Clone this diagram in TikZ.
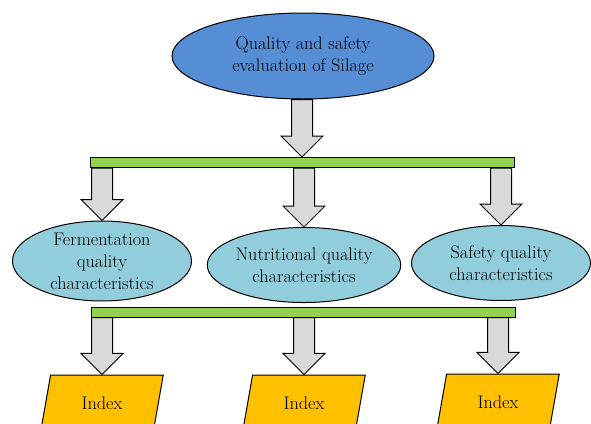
\documentclass[tikz,border=0pt]{standalone}
\usetikzlibrary{shapes.geometric,calc}

\definecolor{topblue}{RGB}{85,142,213}
\definecolor{charblue}{RGB}{146,205,220}
\definecolor{bargreen}{RGB}{146,208,80}
\definecolor{arrowgray}{RGB}{217,217,217}
\definecolor{indexgold}{RGB}{255,192,0}

% block arrow pointing down onto the second node, shaft starting at the first
\newcommand\blockarrow[2]{%
  \draw[blockarrow] let \p1=(#1), \p2=(#2) in
    (\x2-10.5pt,\y1) -- (\x2+10.5pt,\y1) -- (\x2+10.5pt,\y2+21pt)
    -- (\x2+21pt,\y2+21pt) -- (\x2,\y2) -- (\x2-21pt,\y2+21pt)
    -- (\x2-10.5pt,\y2+21pt) -- cycle;}

\begin{document}
\begin{tikzpicture}[x=1pt,y=-1pt,line width=1pt,
  font=\fontsize{18.2}{22}\selectfont,
  goal/.style={ellipse,draw,fill=topblue,align=center,inner sep=0pt,
    minimum width=262pt,minimum height=86pt},
  chara/.style={ellipse,draw,fill=charblue,align=center,inner sep=0pt,
    minimum width=179pt,minimum height=75pt},
  splitbar/.style={rectangle,draw,fill=bargreen,inner sep=0pt,
    minimum width=424pt,minimum height=10pt},
  indexbox/.style={trapezium,draw,fill=indexgold,inner sep=0pt,
    trapezium left angle=73,trapezium right angle=107,
    trapezium stretches=true,minimum width=123pt,minimum height=56pt},
  blockarrow/.style={draw,fill=arrowgray,line join=miter}]
  \clip (0,0) rectangle (591,423);

  \node[goal] (goal) at (303,56) {Quality and safety\\evaluation of Silage};
  \node[splitbar] (bar1) at (302,162.5) {};

  \node[chara] (ferm) at (102,261) {Fermentation\\quality\\characteristics};
  \node[chara] (nutr) at (304,265) {Nutritional quality\\characteristics};
  \node[chara] (safe) at (501,263) {Safety quality\\characteristics};
  \node[splitbar] (bar2) at (303,312) {};

  \node[indexbox] (idx1) at (102,403) {Index};
  \node[indexbox] (idx2) at (304,403) {Index};
  \node[indexbox] (idx3) at (498,402) {Index};

  \blockarrow{goal.south}{bar1.north}
  \blockarrow{bar1.south}{ferm.north}
  \blockarrow{bar1.south}{nutr.north}
  \blockarrow{bar1.south}{safe.north}
  \blockarrow{bar2.south}{idx1.north}
  \blockarrow{bar2.south}{idx2.north}
  \blockarrow{bar2.south}{idx3.north}
\end{tikzpicture}
\end{document}
